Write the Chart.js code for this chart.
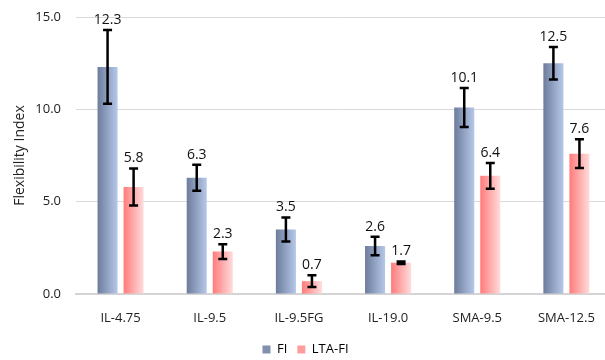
<!DOCTYPE html>
<html>
<head>
<meta charset="utf-8">
<script src="https://cdn.jsdelivr.net/npm/chart.js@4.4.1/dist/chart.umd.min.js"></script>
<style>
  html, body { margin: 0; padding: 0; background: #fff; overflow: hidden; }
  #wrap { width: 612px; height: 360px; }
</style>
</head>
<body>
<div id="wrap"><canvas id="myChart" width="612" height="360"></canvas></div>
<script>
// data
const categories = ['IL-4.75', 'IL-9.5', 'IL-9.5FG', 'IL-19.0', 'SMA-9.5', 'SMA-12.5'];
const fiValues = [12.3, 6.3, 3.5, 2.6, 10.1, 12.5];
const fiErrors = [2.0, 0.7, 0.65, 0.5, 1.05, 0.88];
const ltaValues = [5.8, 2.3, 0.7, 1.7, 6.4, 7.6];
const ltaErrors = [1.0, 0.4, 0.32, 0.07, 0.7, 0.78];
const yTicks = [0, 5, 10, 15];

const values = [fiValues, ltaValues];
const errors = [fiErrors, ltaErrors];
const gradients = [['#6d7c9b', '#b6c8e9'], ['#ff7b7b', '#ffdcdc']];
const legendColors = ['#8190ae', '#ff9c9c'];

Chart.defaults.font.family = "'Open Sans', sans-serif";
Chart.defaults.font.size = 13;
Chart.defaults.color = '#222';

// gradient fill, error bars and value labels
const barExtras = {
    id: 'barExtras',
    beforeDatasetsDraw(chart) {
        const ctx = chart.ctx;
        chart.data.datasets.forEach((ds, i) => {
            chart.getDatasetMeta(i).data.forEach(bar => {
                const g = ctx.createLinearGradient(bar.x - bar.width / 2, 0, bar.x + bar.width / 2, 0);
                g.addColorStop(0, gradients[i][0]);
                g.addColorStop(1, gradients[i][1]);
                bar.options.backgroundColor = g;
            });
        });
    },
    afterDatasetsDraw(chart) {
        const ctx = chart.ctx;
        const y = chart.scales.y;
        ctx.save();
        chart.data.datasets.forEach((ds, i) => {
            chart.getDatasetMeta(i).data.forEach((bar, j) => {
                const v = values[i][j], e = errors[i][j];
                const top = y.getPixelForValue(v + e);
                const bot = y.getPixelForValue(v - e);
                ctx.strokeStyle = '#000';
                ctx.lineWidth = 2.5;
                ctx.beginPath();
                ctx.moveTo(bar.x, top); ctx.lineTo(bar.x, bot);
                ctx.moveTo(bar.x - 4.5, top); ctx.lineTo(bar.x + 4.5, top);
                ctx.moveTo(bar.x - 4.5, bot); ctx.lineTo(bar.x + 4.5, bot);
                ctx.stroke();
                ctx.fillStyle = '#111';
                ctx.font = "14px 'Open Sans', sans-serif";
                ctx.textAlign = 'center';
                ctx.textBaseline = 'middle';
                ctx.fillText(v.toFixed(1), bar.x, top - 10);
            });
        });
        ctx.restore();
    }
};

const ctx = document.getElementById('myChart').getContext('2d');
const myChart = new Chart(ctx, {
    type: 'bar',
    data: {
        labels: categories,
        datasets: [
            { label: 'FI', data: fiValues, backgroundColor: () => legendColors[0], borderWidth: 0,
              categoryPercentage: 0.584, barPercentage: 0.77 },
            { label: 'LTA-FI', data: ltaValues, backgroundColor: () => legendColors[1], borderWidth: 0,
              categoryPercentage: 0.584, barPercentage: 0.77 }
        ]
    },
    options: {
        responsive: false,
        animation: false,
        layout: { padding: { top: 17, right: 1, left: 0, bottom: -6 } },
        plugins: {
            tooltip: { enabled: false },
            legend: {
                position: 'bottom',
                labels: {
                    boxWidth: 8, boxHeight: 8, padding: 10, font: { size: 13 },
                    generateLabels: chart => chart.data.datasets.map((ds, i) => ({
                        text: ds.label, fillStyle: legendColors[i], strokeStyle: legendColors[i],
                        lineWidth: 0, datasetIndex: i, hidden: false
                    }))
                }
            }
        },
        scales: {
            x: {
                grid: { display: false, drawTicks: false },
                border: { display: true, color: '#d4d4d4', width: 2 },
                ticks: { padding: 16, font: { size: 13 } },
                afterFit: s => { s.height -= 8.7; }
            },
            y: {
                min: 0, max: 15,
                afterBuildTicks: s => { s.ticks = yTicks.map(v => ({ value: v })); },
                afterFit: s => { s.width = 76; s.paddingTop = 0; s.paddingBottom = 0; },
                grid: { color: '#dadada', drawTicks: false },
                border: { display: false },
                ticks: { padding: 15, callback: v => v.toFixed(1), font: { size: 13 } },
                title: { display: true, text: 'Flexibility Index', padding: { top: 12, bottom: 4 }, font: { size: 14 } }
            }
        }
    },
    plugins: [barExtras]
});
</script>
</body>
</html>
